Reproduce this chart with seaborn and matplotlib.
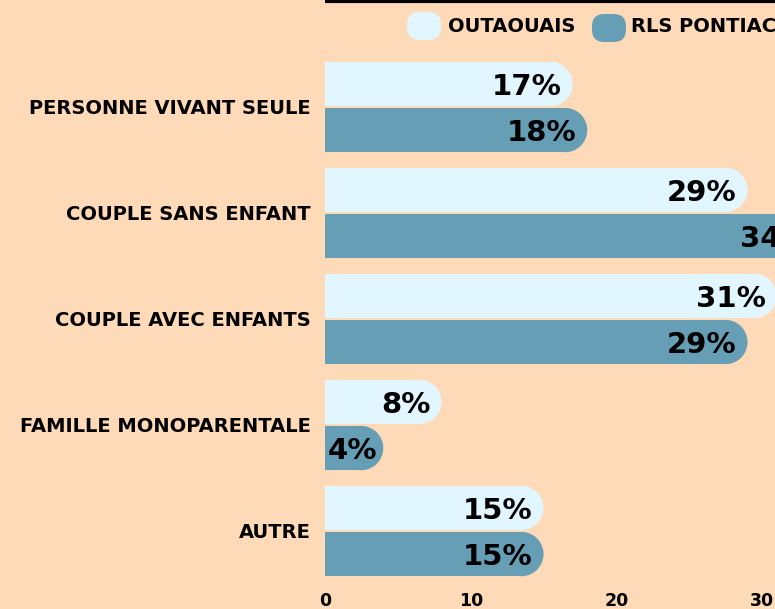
import pandas as pd
import numpy as np
import matplotlib.pyplot as plt
import seaborn as sns
from matplotlib.patches import Ellipse, FancyBboxPatch

categories = ["PERSONNE VIVANT SEULE", "COUPLE SANS ENFANT", "COUPLE AVEC ENFANTS",
              "FAMILLE MONOPARENTALE", "AUTRE"]
outaouais = [17, 29, 31, 8, 15]
pontiac = [18, 34, 29, 4, 15]
series = ["OUTAOUAIS", "RLS PONTIAC"]
xticks = [0, 10, 20, 30]

bg = "#FFDAB9"
light = "#E1F6FE"
dark = "#669EB5"

df = pd.DataFrame({
    "cat": categories * 2,
    "val": outaouais + pontiac,
    "serie": [series[0]] * 5 + [series[1]] * 5,
})

sns.set_theme(style="white")
plt.rcParams["font.family"] = ["DejaVu Sans"]
plt.rcParams["text.color"] = "black"
plt.rcParams["xtick.color"] = "black"
plt.rcParams["ytick.color"] = "black"

fig = plt.figure(figsize=(7.75, 6.09), dpi=100, facecolor=bg)
W, H = 775, 609
px_per_unit = 14.57
x_max = 35
# axes runs past the right edge of the figure, so the long bar is cut off
ax = fig.add_axes([325 / W, 25 / H, x_max * px_per_unit / W, 583 / H])
ax.set_facecolor(bg)

sns.barplot(data=df, y="cat", x="val", hue="serie", order=categories,
            hue_order=series, palette=[light, dark], orient="h",
            width=0.87, gap=0.04, saturation=1, linewidth=0, ax=ax, legend=False)
ax.set_xlim(0, x_max)
ax.set_ylim(4.5, -1)

# rounded right end: shorten the bar and put a half circle on its end
r_x = 22 / px_per_unit
for p in list(ax.patches):
    w = p.get_width()
    y = p.get_y()
    h = p.get_height()
    col = p.get_facecolor()
    p.set_edgecolor("none")
    r = min(r_x, w)
    p.set_width(w - r + 0.05)
    ax.add_patch(Ellipse((w - r, y + h / 2), 2 * r, h, facecolor=col,
                         edgecolor="none", lw=0))
    txt = f"{w:.0f}%"
    if w < 6:
        ax.text(0.2, y + h / 2, txt, ha="left", va="center_baseline",
                fontsize=21, fontweight="heavy", color="black")
    else:
        ax.text(w - 0.75, y + h / 2, txt, ha="right", va="center_baseline",
                fontsize=21, fontweight="heavy", color="black")

ax.set_xticks(xticks)
ax.set_xticklabels([str(t) for t in xticks], fontsize=12.5, fontweight="bold")
ax.tick_params(axis="x", length=0, pad=6)
ax.set_yticks(range(len(categories)))
ax.set_yticklabels(categories, fontsize=14, fontweight="bold")
ax.tick_params(axis="y", length=0, pad=10)
ax.set_xlabel("")
ax.set_ylabel("")
for s in ["left", "right", "bottom"]:
    ax.spines[s].set_visible(False)
ax.spines["top"].set_linewidth(3)
ax.spines["top"].set_color("black")
ax.spines["top"].set_capstyle("butt")

# legend with rounded swatches
def swatch(cx, cy, color):
    fig.add_artist(FancyBboxPatch(((cx - 17) / W, 1 - (cy + 14) / H), 34 / W, 28 / H,
                                  boxstyle="round,pad=0,rounding_size=0.016",
                                  mutation_aspect=W / H,
                                  transform=fig.transFigure, facecolor=color,
                                  edgecolor="none"))

swatch(424, 26, light)
fig.text(448 / W, 1 - 26 / H, series[0], ha="left", va="center",
         fontsize=14, fontweight="bold")
swatch(609, 28, dark)
fig.text(631 / W, 1 - 26 / H, series[1], ha="left", va="center",
         fontsize=14, fontweight="bold")

fig.savefig("out.png", dpi=100, facecolor=bg)
